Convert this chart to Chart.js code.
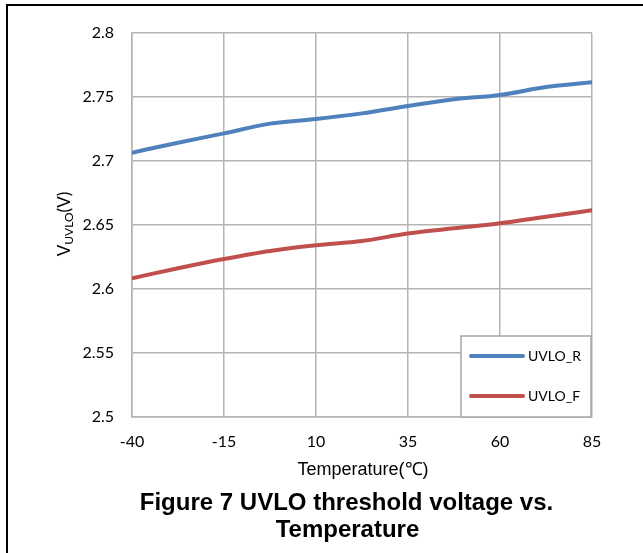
<!DOCTYPE html>
<html>
<head>
<meta charset="utf-8">
<script src="https://cdn.jsdelivr.net/npm/chart.js@4/dist/chart.umd.min.js"></script>
<style>
  html, body { margin: 0; padding: 0; background: #fff; }
  #wrap { position: relative; width: 643px; height: 553px; }
</style>
</head>
<body>
<div id="wrap"><canvas id="c" width="643" height="553"></canvas></div>
<script>
// Temperature sweep (°C) and measured UVLO thresholds (V)
const temperatures = [-40, -27.5, -15, -2.5, 10, 22.5, 35, 47.5, 60, 72.5, 85];
const uvloRising   = [2.7065, 2.7143, 2.7216, 2.7292, 2.7328, 2.7372, 2.7430, 2.7482, 2.7516, 2.7578, 2.7615];
const uvloFalling  = [2.6084, 2.6162, 2.6234, 2.6297, 2.6341, 2.6375, 2.6433, 2.6474, 2.6513, 2.6565, 2.6615];
const seriesNames  = ['UVLO_R', 'UVLO_F'];
const xTickLabels  = ['-40', '-15', '10', '35', '60', '85'];
const yTickLabels  = ['2.5', '2.55', '2.6', '2.65', '2.7', '2.75', '2.8'];
const xAxisTitle   = 'Temperature(\u2103)';
const captionLines = ['Figure 7 UVLO threshold voltage vs.', 'Temperature'];

const tickFont = { family: 'Lato', size: 16 };
const gridColor = '#b4b4b4';

// Frame lines, axis titles, caption and the boxed legend
const decorations = {
  id: 'decorations',
  beforeDraw(chart) {
    const ctx = chart.ctx;
    ctx.save();
    ctx.fillStyle = '#000';
    ctx.fillRect(6, 4, 643 - 6, 2);
    ctx.fillRect(6, 4, 2, 553 - 4);
    ctx.restore();
  },
  afterDraw(chart) {
    const ctx = chart.ctx;
    const area = chart.chartArea;
    ctx.save();

    // legend box
    const lx = 461, ly = 336, lw = area.right - 461 - 1, lh = area.bottom - 336;
    ctx.fillStyle = '#fff';
    ctx.fillRect(lx, ly, lw, lh);
    ctx.strokeStyle = '#a6a6a6';
    ctx.lineWidth = 1.5;
    ctx.strokeRect(lx, ly, lw, lh);
    chart.data.datasets.forEach((ds, i) => {
      const y = 356 + i * 40;
      ctx.strokeStyle = ds.borderColor;
      ctx.lineWidth = 4;
      ctx.lineCap = 'round';
      ctx.beginPath();
      ctx.moveTo(471, y);
      ctx.lineTo(523, y);
      ctx.stroke();
      ctx.fillStyle = '#000';
      ctx.font = '14px Lato';
      ctx.textAlign = 'left';
      ctx.textBaseline = 'middle';
      ctx.fillText(ds.label, 528, y);
    });

    // x axis title
    ctx.fillStyle = '#000';
    ctx.font = '18px "Liberation Sans", Arial';
    ctx.textAlign = 'center';
    ctx.textBaseline = 'middle';
    ctx.fillText(xAxisTitle, (area.left + area.right) / 2 + 1, 470);

    // y axis title with subscript
    ctx.translate(64, 224);
    ctx.rotate(-Math.PI / 2);
    const mainFont = '17px Lato';
    const subFont = '12px Lato';
    ctx.font = mainFont;
    const wV = ctx.measureText('V').width;
    const wP = ctx.measureText('(V)').width;
    ctx.font = subFont;
    const wS = ctx.measureText('UVLO').width;
    let x = -(wV + wS + wP) / 2;
    ctx.textAlign = 'left';
    ctx.textBaseline = 'alphabetic';
    ctx.font = mainFont;
    ctx.fillText('V', x, 6); x += wV;
    ctx.font = subFont;
    ctx.fillText('UVLO', x, 9); x += wS;
    ctx.font = mainFont;
    ctx.fillText('(V)', x, 6);
    ctx.setTransform(1, 0, 0, 1, 0, 0);

    // caption
    ctx.font = 'bold 24px "Liberation Sans", Arial';
    ctx.textAlign = 'center';
    ctx.textBaseline = 'middle';
    ctx.fillText(captionLines[0], 346.5, 503);
    ctx.fillText(captionLines[1], 347.5, 530);
    ctx.restore();
  }
};

new Chart(document.getElementById('c'), {
  type: 'line',
  data: {
    datasets: [
      {
        label: seriesNames[0],
        data: temperatures.map((t, i) => ({ x: t, y: uvloRising[i] })),
        borderColor: '#4f81bd',
        backgroundColor: '#4f81bd',
        borderWidth: 4,
        pointRadius: 0,
        cubicInterpolationMode: 'monotone',
        borderCapStyle: 'round'
      },
      {
        label: seriesNames[1],
        data: temperatures.map((t, i) => ({ x: t, y: uvloFalling[i] })),
        borderColor: '#c0504d',
        backgroundColor: '#c0504d',
        borderWidth: 4,
        pointRadius: 0,
        cubicInterpolationMode: 'monotone',
        borderCapStyle: 'round'
      }
    ]
  },
  options: {
    responsive: false,
    animation: false,
    devicePixelRatio: 1,
    layout: { padding: { left: 0, top: 33, right: 51, bottom: 0 } },
    plugins: { legend: { display: false }, tooltip: { enabled: false } },
    scales: {
      x: {
        type: 'linear',
        min: -40, max: 85,
        afterBuildTicks(scale) {
          scale.ticks = xTickLabels.map(v => ({ value: parseFloat(v) }));
        },
        afterFit(scale) { scale.height = 553 - 417; },
        ticks: {
          callback: (v) => xTickLabels.find(l => parseFloat(l) === v) ?? '',
          font: tickFont, color: '#000', padding: 15, maxRotation: 0
        },
        grid: { color: gridColor, lineWidth: 1.5, drawTicks: false },
        border: { color: gridColor, width: 1.5 }
      },
      y: {
        type: 'linear',
        min: 2.5, max: 2.8,
        afterBuildTicks(scale) {
          scale.ticks = yTickLabels.map(v => ({ value: parseFloat(v) }));
        },
        afterFit(scale) { scale.width = 132; },
        ticks: {
          callback: (v) => yTickLabels.find(l => Math.abs(parseFloat(l) - v) < 1e-9) ?? '',
          font: tickFont, color: '#000', padding: 18
        },
        grid: { color: gridColor, lineWidth: 1.5, drawTicks: false },
        border: { color: gridColor, width: 1.5 }
      }
    }
  },
  plugins: [decorations]
});
</script>
</body>
</html>
